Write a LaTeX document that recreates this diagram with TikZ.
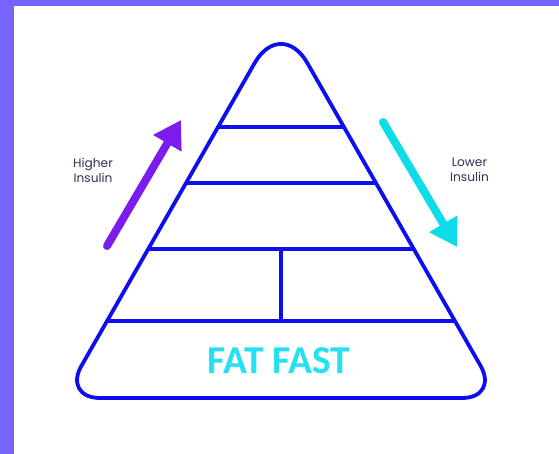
\documentclass[tikz,border=0pt]{standalone}
\usepackage{fontspec}
\usepackage{tikz}
\usetikzlibrary{arrows.meta, calc}
\newfontfamily\labelfont{Poppins}
\newfontfamily\fatfont{Carlito}
\definecolor{pyrblue}{RGB}{14,14,238}
\definecolor{framepurple}{RGB}{118,100,255}
\definecolor{hipurple}{RGB}{124,28,236}
\definecolor{locyan}{RGB}{14,220,232}
\definecolor{fatcyan}{RGB}{36,224,242}
\definecolor{lblgray}{RGB}{50,46,84}

\begin{document}
\begin{tikzpicture}[x=1pt, y=-1pt,
    tier/.style={draw=pyrblue, line width=3.8pt},
    shaft/.style={line width=8pt, line cap=round, -{Triangle[length=27pt, width=31pt]}},
    lbl/.style={font=\labelfont\fontsize{12.2}{15}\selectfont, text=lblgray, align=center}]
    % frame
    \fill[framepurple] (0,0) rectangle (559,454);
    \fill[white] (14,6) rectangle (559,454);
    \useasboundingbox (0,0) rectangle (559,454);
    % pyramid outline
    \coordinate (apex) at (281,17);
    \coordinate (bl) at (63,398);
    \coordinate (br) at (499,398);
    \draw[tier, line join=round, rounded corners=37pt] (281,398) -- (bl) [rounded corners=53pt] -- (apex) [rounded corners=37pt] -- (br) -- cycle;
    % tiers
    \foreach \f/\n in {0.2887/a, 0.4357/b, 0.609/c, 0.798/d}
      \draw[tier] ($(apex)!\f!(bl)$) coordinate (l\n) -- ($(apex)!\f!(br)$) coordinate (r\n);
    \draw[tier] ($(lc)!0.5!(rc)$) coordinate (mc) -- ($(ld)!0.5!(rd)$) coordinate (md);
    % arrows
    \coordinate (hiS) at (107,246);
    \coordinate (hiE) at (181,120);
    \coordinate (loS) at (383,122);
    \coordinate (loE) at (457,247);
    \draw[shaft, draw=hipurple, fill=hipurple] (hiS) -- (hiE);
    \draw[shaft, draw=locyan, fill=locyan] (loS) -- (loE);
    % labels
    \node[lbl] (hi) at (93,170) {Higher\\Insulin};
    \node[lbl] (lo) at (469.5,170) {Lower\\Insulin};
    \node[font=\fatfont\bfseries\fontsize{39.5}{39.5}\selectfont, text=fatcyan] (fat) at (279,361) {FAT FAST};
\end{tikzpicture}
\end{document}
